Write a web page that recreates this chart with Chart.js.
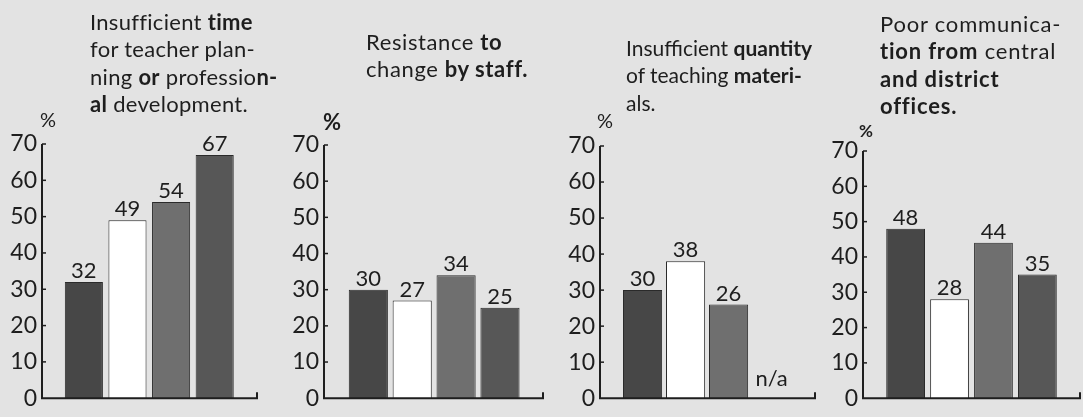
<!DOCTYPE html>
<html><head><meta charset="utf-8">
<script src="https://cdn.jsdelivr.net/npm/chart.js@4/dist/chart.umd.min.js"></script>
<style>
html,body{margin:0;padding:0;}
body{background:#e3e3e3;width:1083px;height:417px;overflow:hidden;position:relative;font-family:Lato,'Open Sans',sans-serif;color:#1e1e1e;}
canvas{position:absolute;top:0;}
.t{position:absolute;font-size:22px;line-height:27.3px;white-space:nowrap;z-index:2;}
.t b{font-weight:700;}
.pc{position:absolute;line-height:1;z-index:2;}
</style></head>
<body>
<div class="t" style="left:90px;top:8px;letter-spacing:0.3px">Insufficient <b>time</b><br>for teacher plan-<br>ning <b>or</b> professio<b>n-</b><br><b>al</b> development.</div>
<div class="t" style="left:366px;top:28px;letter-spacing:0.6px">Resistance <b>to</b><br>change <b>by staff.</b></div>
<div class="t" style="left:626px;top:34px;font-size:21px">Insufficient <b>quantity</b><br>of teaching <b>materi-</b><br>als.</div>
<div class="t" style="left:880px;top:10px;letter-spacing:0.8px">Poor communica-<br><b>tion from</b> central<br><b>and district</b><br><b>offices.</b></div>
<div class="pc" style="left:40px;top:109px;font-size:20px">%</div>
<div class="pc" style="left:323px;top:111px;font-size:22px;font-weight:700">%</div>
<div class="pc" style="left:597px;top:110px;font-size:20px">%</div>
<div class="pc" style="left:859px;top:122px;font-size:17px;font-weight:700">%</div>
<canvas id="c0"></canvas><canvas id="c1"></canvas><canvas id="c2"></canvas><canvas id="c3"></canvas>
<script>
// ---- data ----
const categories = ['Group 1', 'Group 2', 'Group 3', 'Group 4'];
const yTicks = [0, 10, 20, 30, 40, 50, 60, 70];
const valuesTime = [32, 49, 54, 67];
const valuesResistance = [30, 27, 34, 25];
const valuesMaterials = [30, 38, 26, null];
const valuesCommunication = [48, 28, 44, 35];
const missingLabel = 'n/a';

// ---- styles / layout ----
const barColors = ['#474747', '#ffffff', '#6f6f6f', '#575757'];
const ink = '#1e1e1e';
const panels = [
  {id: 'c0', values: valuesTime,          axisX: 42,  axisEnd: 257,  y0: 405, y70: 144, xMin: 0.04,  xMax: 4.97},
  {id: 'c1', values: valuesResistance,    axisX: 324, axisEnd: 543,  y0: 406, y70: 145, xMin: -0.01, xMax: 4.98},
  {id: 'c2', values: valuesMaterials,     axisX: 600, axisEnd: 815,  y0: 408, y70: 146, xMin: 0.01,  xMax: 5.01},
  {id: 'c3', values: valuesCommunication, axisX: 863, axisEnd: 1080, y0: 411, y70: 151, xMin: 0.03,  xMax: 4.97}
];
const AXW = 50, RPAD = 4, H = 417;

Chart.defaults.font.family = "Lato, 'Open Sans', sans-serif";
Chart.defaults.color = ink;

const drawPlugin = {
  id: 'drawPlugin',
  afterDatasetsDraw(chart) {
    const {ctx, chartArea: a, scales: {x, y}} = chart;
    const top = y.getPixelForValue(yTicks[yTicks.length - 1]);
    const bot = y.getPixelForValue(0);
    ctx.save();
    ctx.strokeStyle = ink;
    ctx.lineWidth = 2;
    ctx.beginPath();
    ctx.moveTo(a.left, top);
    ctx.lineTo(a.left, bot);
    ctx.lineTo(a.right, bot);
    ctx.lineTo(a.right, bot - 6);
    ctx.stroke();
    ctx.lineWidth = 1.5;
    yTicks.forEach(v => {
      if (v === 0) return;
      const py = y.getPixelForValue(v);
      ctx.beginPath(); ctx.moveTo(a.left, py); ctx.lineTo(a.left + 4, py); ctx.stroke();
    });
    // value labels
    ctx.fillStyle = ink;
    ctx.font = "22px Lato, 'Open Sans', sans-serif";
    ctx.textAlign = 'center';
    ctx.textBaseline = 'alphabetic';
    const ds = chart.data.datasets[0];
    const meta = chart.getDatasetMeta(0);
    ds.data.forEach((pt, i) => {
      if (pt.y === null || pt.y === undefined) {
        ctx.fillText(missingLabel, x.getPixelForValue(pt.x), bot - 12);
      } else {
        const el = meta.data[i];
        ctx.fillText(String(pt.y), el.x, el.y - 4);
      }
    });
    ctx.restore();
  }
};

panels.forEach(p => {
  const cv = document.getElementById(p.id);
  const w = (p.axisEnd - p.axisX) + AXW + RPAD;
  cv.width = w; cv.height = H;
  cv.style.width = w + 'px'; cv.style.height = H + 'px';
  cv.style.left = (p.axisX - AXW) + 'px';
  new Chart(cv, {
    type: 'bar',
    data: {
      labels: categories,
      datasets: [{
        data: p.values.map((v, i) => ({x: i + 1, y: v})),
        backgroundColor: barColors,
        borderColor: '#2a2a2a',
        borderWidth: 1,
        barPercentage: 0.91,
        categoryPercentage: 1
      }]
    },
    options: {
      responsive: false,
      animation: false,
      devicePixelRatio: 1,
      layout: {padding: {top: p.y70, bottom: H - p.y0, left: 0, right: RPAD}},
      plugins: {legend: {display: false}, tooltip: {enabled: false}, title: {display: false}},
      scales: {
        x: {type: 'linear', min: p.xMin, max: p.xMax, display: false, offset: false, grid: {display: false}},
        y: {
          min: 0, max: 70,
          afterBuildTicks: s => { s.ticks = yTicks.map(v => ({value: v})); },
          afterFit: s => { s.width = AXW; },
          grid: {display: false, drawTicks: false},
          border: {display: false},
          ticks: {font: {size: 23}, color: ink, padding: 5}
        }
      }
    },
    plugins: [drawPlugin]
  });
});
</script>
</body></html>
